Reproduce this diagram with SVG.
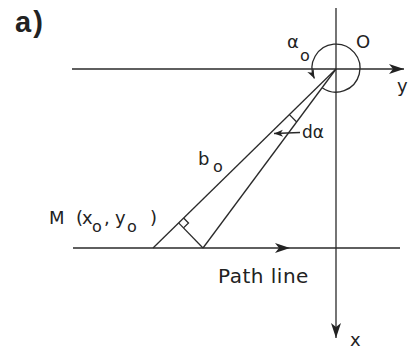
<svg xmlns="http://www.w3.org/2000/svg" width="412" height="352" viewBox="0 0 412 352">
<style>
.ln{stroke:#2a2a2a;stroke-width:1.3;fill:none}
.tx{font-family:"DejaVu Sans","Liberation Sans",sans-serif;fill:#222;font-size:18px}
.sub{font-size:16px}
</style>
<defs>
<marker id="ah" markerUnits="userSpaceOnUse" markerWidth="20" markerHeight="12" viewBox="-16 -6 20 12" refX="0" refY="0" orient="auto">
<path d="M0,0 L-15,-5 L-11,0 L-15,5 Z" fill="#222"/>
</marker>
<marker id="ahs" markerUnits="userSpaceOnUse" markerWidth="12" markerHeight="10" viewBox="-10 -5 12 10" refX="0" refY="0" orient="auto">
<path d="M0,0 L-9,-3.5 L-6.5,0 L-9,3.5 Z" fill="#222"/>
</marker>
</defs>
<rect width="412" height="352" fill="#fff"/>
<text x="15" y="32" style="font-family:'Liberation Sans',Arial,sans-serif;fill:#222;font-size:29px;font-weight:bold;letter-spacing:2px">a)</text>
<g id="axes">
<line class="ln" x1="72" y1="69" x2="404" y2="69" marker-end="url(#ah)"/>
<line class="ln" x1="336" y1="8" x2="336" y2="338" marker-end="url(#ah)"/>
<polyline class="ln" points="73,248 290,248 400,248" marker-mid="url(#ah)"/>
</g>
<g id="geometry">
<line class="ln" x1="336" y1="69" x2="153" y2="248"/>
<line class="ln" x1="336" y1="69" x2="203" y2="248"/>
<line class="ln" x1="178.6" y1="222.9" x2="203" y2="248"/>
<polyline class="ln" points="183.6,218 188.5,223 183.5,227.9"/>
<line class="ln" x1="289.4" y1="114.6" x2="296.7" y2="122"/>
<line class="ln" x1="300" y1="132.5" x2="274" y2="133.5" marker-end="url(#ahs)"/>
<path class="ln" d="M322.2,87.7 A24,24 0 1 0 314.4,78.5" marker-end="url(#ahs)"/>
</g>
<g id="labels">
<text class="tx" x="287" y="48">α<tspan class="sub" x="300" y="61">o</tspan></text>
<text class="tx" x="356" y="48">O</text>
<text class="tx" x="397" y="92">y</text>
<text class="tx" x="350" y="346">x</text>
<text class="tx" x="302" y="138" style="font-size:17px">dα</text>
<text class="tx" x="198" y="165">b<tspan class="sub" x="213" y="172">o</tspan></text>
<text class="tx" x="49" y="224">M<tspan x="76">(</tspan><tspan x="82">x</tspan><tspan class="sub" x="92" y="232">o</tspan><tspan x="104" y="224">,</tspan><tspan x="115">y</tspan><tspan class="sub" x="127" y="232">o</tspan><tspan x="150" y="224">)</tspan></text>
<text class="tx" x="218" y="283" style="font-size:20px;letter-spacing:0.5px">Path line</text>
</g>
</svg>
